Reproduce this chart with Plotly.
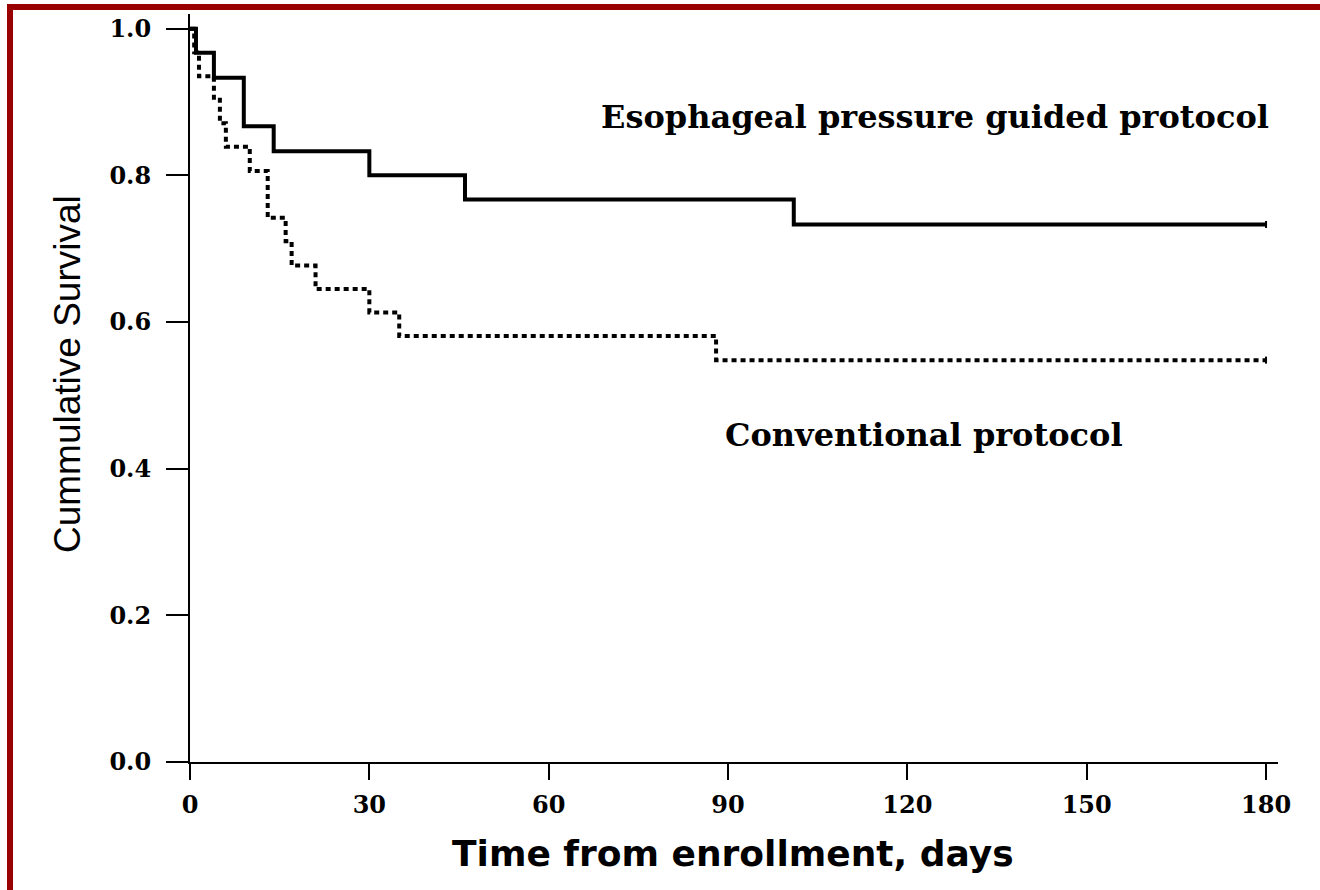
import plotly.graph_objects as go

# Kaplan-Meier steps: day of each drop and survival after it
esoph_days = [0, 1, 4, 9, 14, 30, 46, 101, 180]
esoph_surv = [1.0, 0.967, 0.933, 0.867, 0.833, 0.800, 0.767, 0.733, 0.733]

conv_days = [0, 0.7, 1.5, 4, 5, 6, 10, 13, 16, 17, 21, 30, 35, 88, 180]
conv_surv = [1.0, 0.968, 0.935, 0.903, 0.871, 0.839, 0.806, 0.742, 0.710,
             0.677, 0.645, 0.613, 0.581, 0.548, 0.548]

x_ticks = [0, 30, 60, 90, 120, 150, 180]
y_ticks = [0.0, 0.2, 0.4, 0.6, 0.8, 1.0]
y_tick_text = ["0.0", "0.2", "0.4", "0.6", "0.8", "1.0"]

label_esoph = "Esophageal pressure guided protocol"
label_conv = "Conventional protocol"
x_title = "Time from enrollment, days"
y_title = "Cummulative Survival"

serif_bold = "DejaVu Serif"
fig = go.Figure()

fig.add_trace(go.Scatter(
    x=esoph_days, y=esoph_surv, mode="lines", line_shape="hv",
    line=dict(color="black", width=4), showlegend=False, hoverinfo="skip"))
fig.add_trace(go.Scatter(
    x=conv_days, y=conv_surv, mode="lines", line_shape="hv",
    line=dict(color="black", width=4, dash="5px,4px"), showlegend=False,
    hoverinfo="skip"))

# censoring ticks at the end of follow-up
fig.add_trace(go.Scatter(
    x=[esoph_days[-1], conv_days[-1]], y=[esoph_surv[-1], conv_surv[-1]],
    mode="markers",
    marker=dict(symbol="line-ns", size=5, line=dict(color="black", width=2)),
    showlegend=False, hoverinfo="skip"))

fig.add_annotation(x=124.6, y=0.880, xref="x", yref="y", text=label_esoph,
                   showarrow=False, xanchor="center", yanchor="middle",
                   font=dict(family=serif_bold, size=32, color="black", weight="bold"))
fig.add_annotation(x=122.8, y=0.446, xref="x", yref="y", text=label_conv,
                   showarrow=False, xanchor="center", yanchor="middle",
                   font=dict(family=serif_bold, size=32, color="black", weight="bold"))

# axis titles
fig.add_annotation(x=(733 - 190) / 1088, y=(762 - 853) / 748, xref="paper", yref="paper",
                   text=x_title, showarrow=False, xanchor="center", yanchor="middle",
                   font=dict(family="DejaVu Sans", size=36, color="black", weight="bold"))
fig.add_annotation(x=(67 - 190) / 1088, y=(762 - 374) / 748, xref="paper", yref="paper",
                   text=y_title, showarrow=False, textangle=-90,
                   xanchor="center", yanchor="middle",
                   font=dict(family="Liberation Sans", size=37, color="black"))

# dark red frame on the left and top
frame = "#990000"
fig.add_shape(type="rect", xref="paper", yref="paper", layer="above",
              x0=(7 - 190) / 1088, x1=(13 - 190) / 1088,
              y0=(762 - 4) / 748, y1=(762 - 890) / 748,
              fillcolor=frame, line=dict(width=0))
fig.add_shape(type="rect", xref="paper", yref="paper", layer="above",
              x0=(7 - 190) / 1088, x1=(1320 - 190) / 1088,
              y0=(762 - 4) / 748, y1=(762 - 10) / 748,
              fillcolor=frame, line=dict(width=0))

tick_font = dict(family=serif_bold, size=24, color="black", weight="bold")
fig.update_xaxes(range=[0, 182], tickvals=x_ticks, ticks="outside", ticklen=16,
                 tickwidth=2, tickcolor="black", showline=True, linewidth=2,
                 linecolor="black", showgrid=False, zeroline=False,
                 tickfont=tick_font, ticklabelstandoff=4)
fig.update_yaxes(range=[0, 1.02], tickvals=y_ticks, ticktext=y_tick_text,
                 ticks="outside", ticklen=22, tickwidth=2, tickcolor="black",
                 showline=True, linewidth=2, linecolor="black", showgrid=False,
                 zeroline=False, tickfont=tick_font, ticklabelstandoff=10)

fig.update_layout(width=1320, height=890, plot_bgcolor="white", paper_bgcolor="white",
                  margin=dict(l=190, r=42, t=14, b=128), showlegend=False)

fig.write_html("out.html")
